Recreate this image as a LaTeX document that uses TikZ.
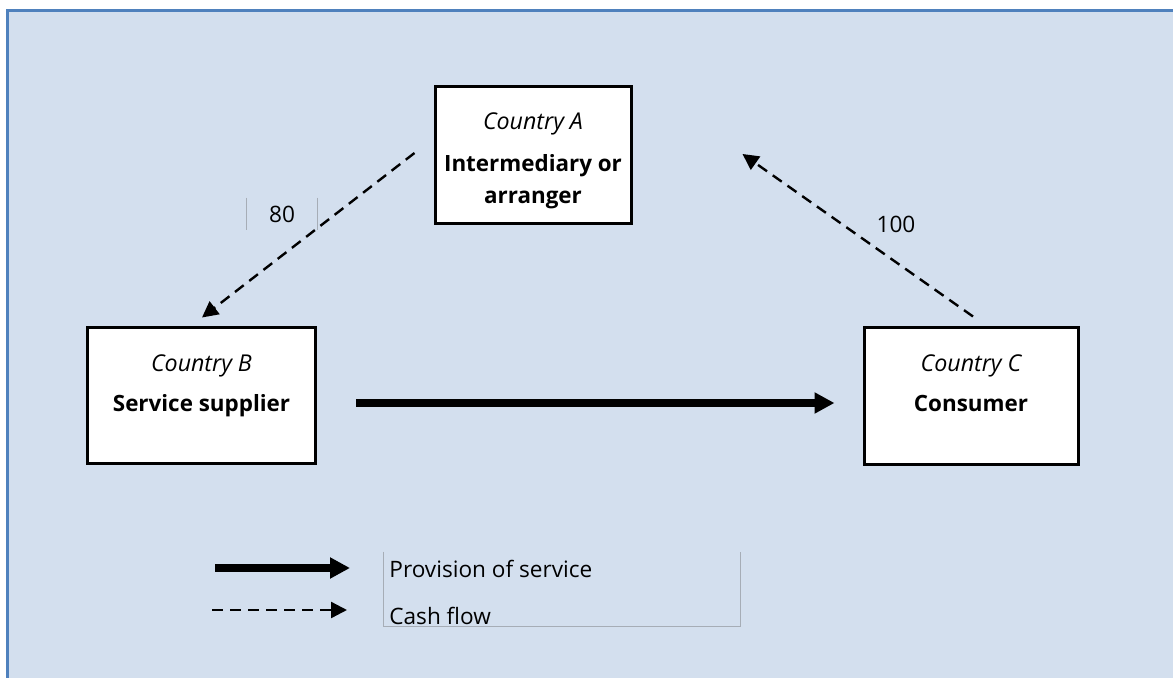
\documentclass[tikz,border=0pt]{standalone}
\usepackage{fontspec}
\setmainfont{Open Sans}
\usetikzlibrary{arrows.meta,calc}
\definecolor{panelfill}{RGB}{211,223,238}
\definecolor{panelframe}{RGB}{79,129,189}
\definecolor{legendgray}{RGB}{166,173,182}
\tikzset{
countrybox/.style={draw=black, fill=white, line width=1.5pt, inner sep=0pt},
countryname/.style={font=\fontsize{11.6}{15}\selectfont\itshape, anchor=base, inner sep=0pt},
rolename/.style={font=\fontsize{11.2}{16}\selectfont\bfseries, anchor=base, inner sep=0pt, align=center},
provision/.style={-{Triangle[length=10pt,width=10pt]}, line width=3.6pt},
cashflow/.style={-{Triangle[length=8pt,width=8pt]}, line width=1.2pt, dash pattern=on 5.5pt off 3.5pt},
valuelabel/.style={inner sep=0pt},
legendline/.style={draw=legendgray, line width=0.6pt},
legendtext/.style={anchor=base west, inner sep=0pt}
}

\begin{document}
\begin{tikzpicture}[x=0.5pt,y=-0.5pt,font=\fontsize{11.3}{15}\selectfont]

\useasboundingbox (0,0) rectangle (1173,678);
\fill[panelfill] (7,11) rectangle (1190,700);
\draw[panelframe, line width=1.5pt] (7,700) -- (7,11) -- (1190,11);

% the three countries
\node[countrybox, minimum width=98pt, minimum height=68.5pt] (A) at (533,155.5) {};
\node[countrybox, minimum width=114pt, minimum height=68pt] (B) at (201.5,396) {};
\node[countrybox, minimum width=107pt, minimum height=68.5pt] (C) at (971,396.5) {};

\node[countryname] (Aname) at (533,130) {Country A};
\node[rolename] (Arole) at (533,204) {Intermediary or\\arranger};
\node[countryname] (Bname) at (201.5,372) {Country B};
\node[rolename] (Brole) at (201.5,412) {Service supplier};
\node[countryname] (Cname) at (971,372) {Country C};
\node[rolename] (Crole) at (971,412) {Consumer};

% cash flows
\coordinate (cashABs) at ($(A.west)+(-19,-2.5)$);
\coordinate (cashABe) at ($(B.north)+(0.5,-9)$);
\draw[cashflow] (cashABs) -- (cashABe);

\coordinate (cashCAs) at ($(C.north)+(2,-10)$);
\coordinate (cashCAe) at ($(A.east)+(110,-1.5)$);
\draw[cashflow] (cashCAs) -- (cashCAe);

\node[valuelabel, minimum width=35pt, minimum height=16pt] (v80) at (282,214) {80};
\draw[legendline] (v80.north west) -- (v80.south west);
\draw[legendline] (v80.north east) -- (v80.south east);
\node[valuelabel, anchor=base] (v100) at (896,233) {100};

% provision of service
\coordinate (provBCs) at ($(B.east)+(39,7)$);
\coordinate (provBCe) at ($(C.west)+(-28,6.5)$);
\draw[provision] (provBCs) -- (provBCe);

% legend
\coordinate (legprovs) at (215,568);
\coordinate (legprove) at (350,568);
\draw[provision] (legprovs) -- (legprove);
\coordinate (legcashs) at (212,610);
\coordinate (legcashe) at (347,610);
\draw[cashflow] (legcashs) -- (legcashe);

\node[inner sep=0pt, minimum width=178pt, minimum height=37pt] (legbox) at (562,589) {};
\draw[legendline] (legbox.north west) -- (legbox.south west) -- (legbox.south east) -- (legbox.north east);
\node[legendtext] (legprov) at (389,577) {Provision of service};
\node[legendtext] (legcash) at (389,624) {Cash flow};

\end{tikzpicture}
\end{document}
